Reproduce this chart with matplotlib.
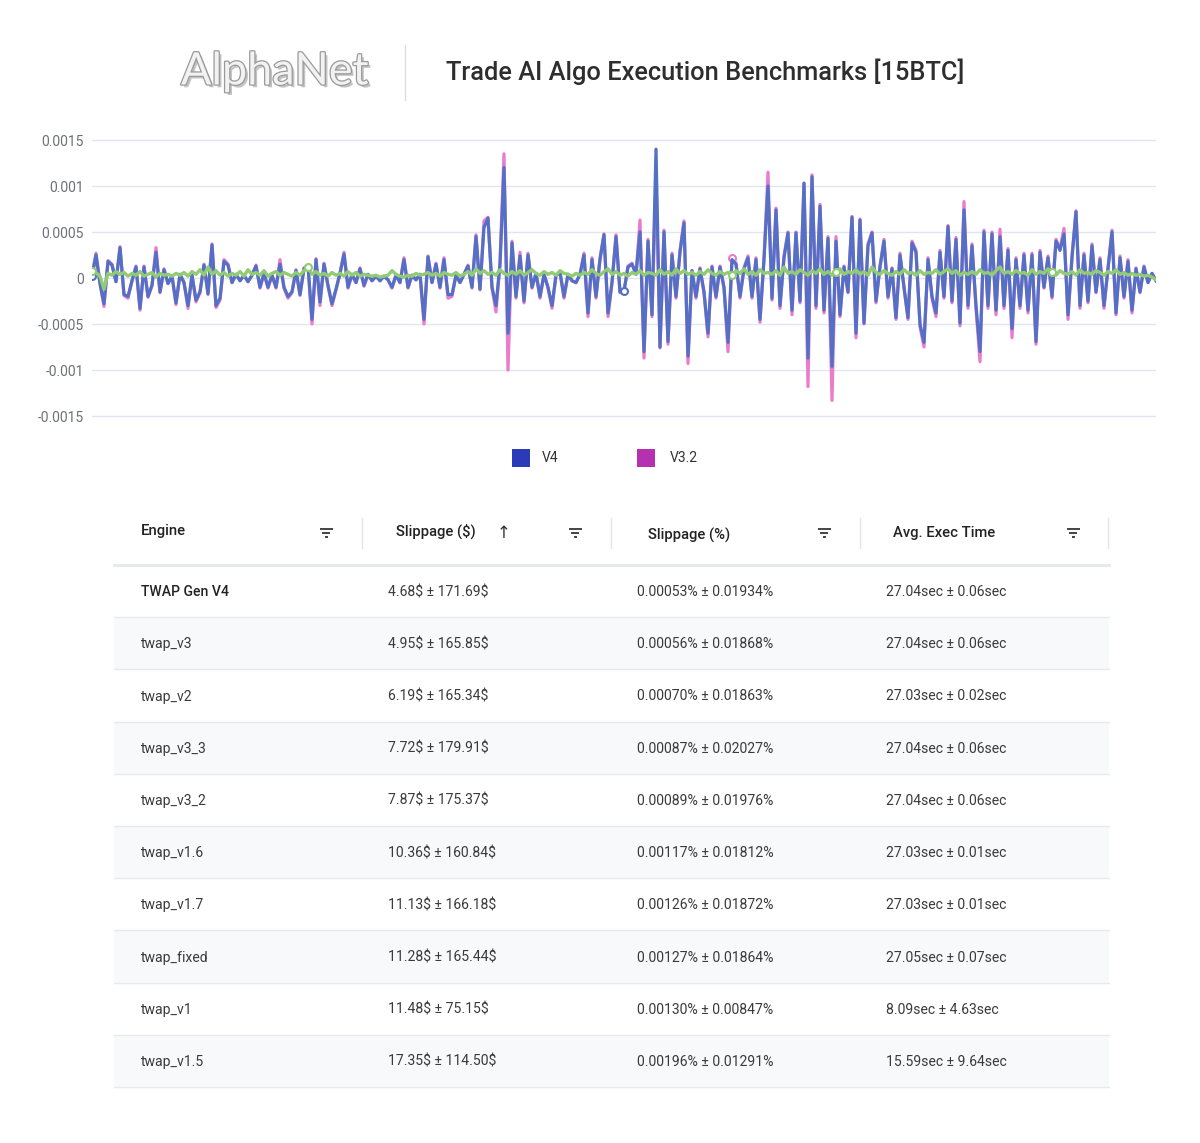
import numpy as np
import matplotlib
matplotlib.use("Agg")
import matplotlib.pyplot as plt
from matplotlib.patches import Rectangle
import matplotlib.patheffects as pe

plt.rcParams['font.family'] = ['Roboto', 'DejaVu Sans']

# slippage per trade, units of 1e-5
v4 = [2, 25, -6, -28, 18, 14, -4, 33, -18, -20,
      -3, 12, -33, 12, -20, -8, 28, -15, 9, -6,
      2, -27, 4, -5, -30, 3, -24, -15, 14, -17,
      36, -30, -22, 18, 14, -5, 4, -3, 3, -4,
      3, 13, -10, 5, -10, 3, -10, 15, -10, -20,
      -15, 8, -18, 10, 13, -45, 20, -26, 15, -8,
      -28, -12, 5, 26, -10, 4, -5, 10, -8, 4,
      -3, 2, -3, 2, -2, -10, 3, -5, 20, -10,
      3, -2, 4, -45, 23, -5, 15, -10, 20, -18,
      -18, 3, -5, 4, 13, -10, 45, -12, 55, 65,
      -10, -30, 15, 120, -60, 38, -20, 24, -25, 25,
      -10, 5, -20, 4, -10, -30, 3, 6, -20, 4,
      -3, -5, 4, 25, -38, 20, -20, 20, 47, -38,
      -5, 45, -15, -14, 12, 15, 4, 50, -80, 40,
      -40, 140, -75, 50, -69, 25, -20, 28, 60, -85,
      8, -20, 10, -15, -60, 12, -20, 12, -10, -70,
      20, 15, -20, 10, 22, -20, 20, -45, 20, 100,
      -22, 74, -30, 22, 49, -35, 49, -25, 103, -87,
      110, -30, 78, -35, 43, -96, 40, -40, 12, -15,
      66, -60, 63, -49, 35, 49, -25, 12, 40, -20,
      10, -43, 25, -10, -43, 38, 28, -50, -70, 20,
      -20, -38, 28, -20, 56, -25, 42, -49, 74, -30,
      35, -30, -80, 50, -30, 48, -35, 45, -30, 30,
      -55, 20, -30, 25, -35, 25, -69, 28, -10, 22,
      -20, 40, 30, 48, -40, 22, 72, -30, 25, -25,
      35, -15, 20, -30, 10, 50, -38, 22, -20, 18,
      -35, 10, -15, 12, -5, 5, -3]

v32 = [2, 27, -6, -31, 19, 15, -4, 34, -19, -22,
       -3, 13, -35, 13, -21, -8, 33, -16, 10, -6,
       2, -29, 4, -5, -33, 3, -26, -16, 15, -18,
       37, -32, -24, 20, 15, -5, 4, -3, 3, -4,
       3, 14, -11, 5, -11, 3, -11, 20, -11, -22,
       -16, 9, -19, 11, 14, -50, 21, -30, 16, -9,
       -30, -13, 5, 28, -11, 4, -5, 11, -9, 4,
       -3, 2, -3, 2, -2, -11, 3, -5, 22, -11,
       3, -2, 4, -50, 24, -5, 16, -11, 22, -22,
       -20, 3, -5, 4, 14, -11, 47, -13, 62, 66,
       -11, -37, 16, 135, -100, 40, -22, 28, -27, 27,
       -11, 5, -22, 4, -11, -33, 3, 6, -22, 4,
       -3, -5, 4, 27, -42, 22, -22, 22, 48, -42,
       -5, 47, -16, -15, 13, 16, 4, 63, -87, 42,
       -42, 110, -76, 52, -72, 27, -22, 30, 62, -93,
       8, -22, 11, -16, -64, 13, -22, 13, -11, -80,
       22, 16, -22, 11, 24, -22, 22, -48, 22, 115,
       -24, 76, -33, 24, 50, -40, 50, -27, 103, -118,
       112, -33, 80, -38, 45, -133, 45, -42, 13, -16,
       67, -65, 64, -50, 37, 50, -27, 13, 42, -22,
       11, -45, 27, -11, -45, 40, 30, -53, -75, 22,
       -22, -42, 30, -22, 57, -27, 44, -52, 83, -33,
       37, -33, -91, 52, -33, 50, -40, 53, -33, 32,
       -65, 22, -33, 27, -38, 27, -72, 30, -11, 24,
       -22, 42, 32, 54, -45, 24, 73, -33, 27, -27,
       37, -16, 22, -33, 11, 52, -40, 24, -22, 20,
       -38, 11, -16, 13, -5, 5, -3]

base = [8, 6, 2, -12, 5, 3, 7, 4, 6, 2,
        5, 3, 7, 2, 4, 6, 1, 5, 3, 4,
        2, 5, 3, 6, 2, 7, 4, 9, 3, 12,
        4, 8, 3, 6, 2, 5, 3, 7, 2, 9,
        4, 6, 3, 8, 2, 5, 7, 3, 6, 4,
        2, 6, 3, 8, 12, 4, 7, 3, 5, 2,
        6, 3, 5, 2, 7, 3, 6, 2, 4, 3,
        2, 3, 1, 2, 3, 8, 4, 2, 1, 3,
        2, 5, 3, 4, 6, 3, 5, 2, 6, 4,
        3, 6, 2, 4, 7, 3, 10, 5, 8, 4,
        6, 3, 9, 5, 3, 7, 4, 8, 3, 6,
        9, 5, 3, 7, 4, 6, 3, 8, 5, 4,
        2, 5, 3, 6, 4, 9, 5, 3, 7, 10,
        4, 7, 3, 5, 2, 6, 4, 8, 3, 6,
        5, 3, 9, 4, 7, 3, 10, 5, 8, 4,
        6, 3, 7, 4, 9, 5, 3, 7, 4, 6,
        3, 8, 5, 10, 4, 7, 3, 9, 5, 6,
        4, 8, 3, 12, 5, 7, 4, 9, 6, 3,
        8, 5, 10, 4, 7, 3, 6, 10, 4, 7,
        5, 9, 4, 7, 3, 12, 6, 4, 8, 5,
        3, 7, 4, 9, 5, 6, 3, 8, 4, 6,
        5, 9, 4, 7, 10, 5, 8, 3, 6, 4,
        7, 4, 9, 5, 6, 3, 8, 12, 5, 7,
        4, 8, 5, 6, 3, 9, 4, 7, 5, 10,
        6, 3, 8, 5, 4, 7, 3, 9, 5, 6,
        4, 8, 6, 3, 7, 5, 9, 4, 6, 3,
        5, 3, 4, 2, 3, 1, -2]

yticks = [0.0015, 0.001, 0.0005, 0, -0.0005, -0.001, -0.0015]
ytick_labels = ["0.0015", "0.001", "0.0005", "0", "-0.0005", "-0.001", "-0.0015"]
legend_names = ["V4", "V3.2"]

headers = ["Engine", "Slippage ($)", "Slippage (%)", "Avg. Exec Time"]
engines = ["TWAP Gen V4", "twap_v3", "twap_v2", "twap_v3_3", "twap_v3_2",
           "twap_v1.6", "twap_v1.7", "twap_fixed", "twap_v1", "twap_v1.5"]
slip_usd = ["4.68$ ± 171.69$", "4.95$ ± 165.85$", "6.19$ ± 165.34$", "7.72$ ± 179.91$",
            "7.87$ ± 175.37$", "10.36$ ± 160.84$", "11.13$ ± 166.18$", "11.28$ ± 165.44$",
            "11.48$ ± 75.15$", "17.35$ ± 114.50$"]
slip_pct = ["0.00053% ± 0.01934%", "0.00056% ± 0.01868%", "0.00070% ± 0.01863%",
            "0.00087% ± 0.02027%", "0.00089% ± 0.01976%", "0.00117% ± 0.01812%",
            "0.00126% ± 0.01872%", "0.00127% ± 0.01864%", "0.00130% ± 0.00847%",
            "0.00196% ± 0.01291%"]
exec_time = ["27.04sec ± 0.06sec", "27.04sec ± 0.06sec", "27.03sec ± 0.02sec",
             "27.04sec ± 0.06sec", "27.04sec ± 0.06sec", "27.03sec ± 0.01sec",
             "27.03sec ± 0.01sec", "27.05sec ± 0.07sec", "8.09sec ± 4.63sec",
             "15.59sec ± 9.64sec"]

W, H = 1200, 1143
fig = plt.figure(figsize=(W / 100, H / 100), dpi=100)

# ---- line chart ----
pad = 0.00005
px_per = 276 / 0.003
ax = fig.add_axes([92 / W, 1 - (416 + pad * px_per) / H,
                   (1156 - 92) / W, (276 + 2 * pad * px_per) / H])
x = np.arange(len(v4))
ax.plot(np.arange(len(v32)), np.array(v32) * 1e-5, color='#ea7ccc', lw=2.3,
        marker='o', markevery=[160], ms=5, mfc='white', mec='#ea7ccc', mew=1.5)
ax.plot(x, np.array(v4) * 1e-5, color='#5470c6', lw=2.3,
        marker='o', markevery=[0, 133], ms=5, mfc='white', mec='#5470c6', mew=1.5)
ax.plot(np.arange(len(base)), np.array(base) * 1e-5, color='#91cc75', lw=2.4,
        marker='o', markevery=[0, 54, 160, 186, 240], ms=5, mfc='white',
        mec='#91cc75', mew=1.5)
ax.set_xlim(0, len(v4) - 1)
ax.set_ylim(-0.0015 - pad, 0.0015 + pad)
ax.set_yticks(yticks, ytick_labels)
ax.set_xticks([])
ax.tick_params(axis='y', length=0, pad=6, labelsize=10, labelcolor='#6e7079')
for s in ax.spines.values():
    s.set_visible(False)
ax.grid(axis='y', color='#e0e6f1', lw=1)
ax.set_axisbelow(True)

# ---- overlay in pixel coords: header, legend, table ----
ov = fig.add_axes([0, 0, 1, 1])
ov.set_xlim(0, W)
ov.set_ylim(H, 0)
ov.axis('off')
ov.patch.set_alpha(0)

renderer = fig.canvas.get_renderer()


def fit_width(t, target):
    w = t.get_window_extent(renderer).width
    t.set_fontsize(t.get_fontsize() * target / w)


logo = ov.text(181, 72, "AlphaNet", ha='left', va='center', fontsize=34,
               color='#f2f2f2', family=['Lato', 'DejaVu Sans'],
               path_effects=[pe.SimplePatchShadow(offset=(2, -2), shadow_rgbFace='#555', alpha=0.35),
                             pe.Stroke(linewidth=1.8, foreground='#9a9a9a'), pe.Normal()])
fit_width(logo, 188)
ov.plot([405, 405], [45, 100], color='#dcdcdc', lw=1)
title = ov.text(446, 72, "Trade AI Algo Execution Benchmarks [15BTC]", ha='left', va='center',
                fontsize=17, color='#2e2e2e', weight='medium')
fit_width(title, 520)

# legend
leg_colors = ['#2b3bb7', '#b531b0']
for name, col, lx, tx in zip(legend_names, leg_colors, [512, 637], [542, 670]):
    ov.add_patch(Rectangle((lx, 449), 18, 18, facecolor=col, edgecolor='none'))
    ov.text(tx, 458, name, ha='left', va='center', fontsize=10, color='#333333')

# table
tl, tr = 114, 1109
row_top = 565
row_h = 52.2
head_x = [141, 396, 648, 893]
head_y = [531, 531, 535, 533]
col_x = [141, 388, 637, 886]
filt_x = [326, 575, 824, 1073]
sep_x = [362, 611, 860, 1108]

for hx, hy, h in zip(head_x, head_y, headers):
    ov.text(hx, hy, h, ha='left', va='center', fontsize=10.6, color='#222222',
            weight='medium', parse_math=False)
for fx in filt_x:
    for dy, half in [(-4, 6.5), (0, 4), (4, 1.5)]:
        ov.plot([fx - half, fx + half], [533 + dy, 533 + dy], color='#444444', lw=1.4,
                solid_capstyle='butt')
for sx in sep_x:
    ov.plot([sx, sx], [518, 548], color='#e4e4e4', lw=1)
ov.text(504, 533, "↑", ha='center', va='center', fontsize=12, color='#333333',
        family=['DejaVu Sans'])
ov.plot([tl, tr], [row_top, row_top], color='#e6e8eb', lw=2)

for i, cells in enumerate(zip(engines, slip_usd, slip_pct, exec_time)):
    top = row_top + i * row_h
    if i % 2 == 1:
        ov.add_patch(Rectangle((tl, top + 1), tr - tl, row_h - 1, facecolor='#f8f9fb',
                               edgecolor='none', zorder=0))
    ov.plot([tl, tr], [top + row_h, top + row_h], color='#e8eaed', lw=1)
    for j, (cx, val) in enumerate(zip(col_x, cells)):
        ov.text(cx, top + row_h / 2 + 1, val, ha='left', va='center', fontsize=10.1,
                color='#222222' if (i == 0 and j == 0) else '#3a3a3a',
                weight='medium' if (i == 0 and j == 0) else 'normal',
                parse_math=False)

fig.savefig("out.png", dpi=100, facecolor='white')
